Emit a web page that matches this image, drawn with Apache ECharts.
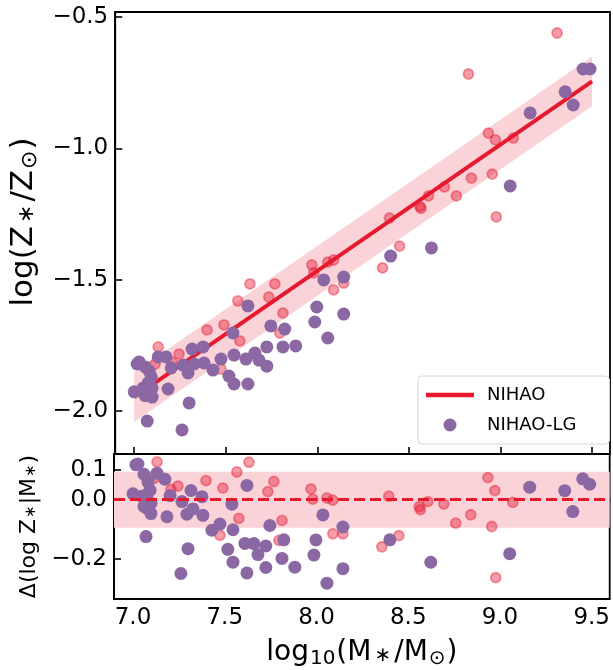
<!DOCTYPE html>
<html><head><meta charset="utf-8">
<script src="https://cdn.jsdelivr.net/npm/echarts@6/dist/echarts.min.js"></script>
<style>html,body{margin:0;padding:0;background:#fff}#c{width:613px;height:670px}</style>
</head><body><div id="c"></div>
<script>
// ---- data ----
const xTicks = [7.0, 7.5, 8.0, 8.5, 9.0, 9.5];
const yTopTicks = [-2.0, -1.5, -1.0, -0.5];
const yBotTicks = [-0.2, 0.0, 0.1];

// NIHAO simulations (red points)
const nihaoX = [9.309, 8.825, 8.934, 8.972, 9.070, 8.841, 8.955, 8.977, 8.694, 8.759,
  8.560, 8.566, 8.607, 8.394, 8.449, 8.356, 7.970, 8.057, 8.089, 7.980,
  8.089, 8.144, 7.812, 7.795, 7.632, 7.768, 7.735, 7.566, 7.398, 7.490,
  7.577, 7.474, 7.131, 7.245, 7.207, 7.114];
const nihaoY = [-0.561, -0.717, -0.942, -0.968, -0.961, -1.113, -1.098, -1.261, -1.147, -1.181,
  -1.221, -1.228, -1.181, -1.265, -1.372, -1.455, -1.444, -1.433, -1.425, -1.474,
  -1.539, -1.513, -1.627, -1.703, -1.516, -1.516, -1.566, -1.581, -1.691, -1.672,
  -1.733, -1.840, -1.756, -1.783, -1.813, -1.821];

// NIHAO-LG simulations (purple points)
const lgX = [9.451, 9.489, 9.353, 9.397, 9.162, 9.053, 8.623, 8.400, 8.035, 8.144,
  7.997, 7.986, 8.144, 8.057, 7.822, 7.882, 7.812, 7.621, 7.539, 7.746,
  7.316, 7.376, 7.724, 7.659, 7.610, 7.545, 7.474, 7.724, 7.681, 7.381,
  7.327, 7.267, 7.202, 7.294, 7.430, 7.517, 7.545, 7.621, 7.185, 7.300,
  7.071, 7.261, 7.131, 7.174, 7.016, 7.027, 7.060, 7.082, 7.093, 7.076,
  7.098, 7.049, 7.000, 7.076, 7.098, 7.060];
const lgY = [-0.698, -0.698, -0.785, -0.835, -0.865, -1.143, -1.379, -1.410, -1.501, -1.490,
  -1.604, -1.661, -1.631, -1.722, -1.688, -1.752, -1.756, -1.600, -1.703, -1.676,
  -1.764, -1.756, -1.756, -1.779, -1.802, -1.787, -1.802, -1.829, -1.806, -1.817,
  -1.821, -1.825, -1.836, -1.855, -1.844, -1.867, -1.897, -1.897, -1.916, -1.969,
  -2.038, -2.072, -1.794, -1.794, -1.821, -1.813, -1.832, -1.848, -1.870, -1.893,
  -1.912, -1.912, -1.927, -1.939, -1.947, -1.941];

// linear fit to NIHAO and its scatter band
const fitX = [7.0, 9.5];
const fitY = [-1.947, -0.745];
const bandHalf = 0.095;

// ---- derived: residual about the fit ----
const fitSlope = (fitY[1] - fitY[0]) / (fitX[1] - fitX[0]);
const fitAt = x => fitY[0] + fitSlope * (x - fitX[0]);
const pairs = (xs, ys) => xs.map((x, i) => [x, ys[i]]);
const resid = (xs, ys) => xs.map((x, i) => [x, +(ys[i] - fitAt(x)).toFixed(4)]);

const RED = '#e6192e';
const RED_PT = 'rgba(232,22,48,0.52)';
const PURPLE = '#8b68a3';
const BAND = '#f9d3d8';
const FONT = 'DejaVu Sans';
const TICK_FS = 23;
const fmt = v => (v < 0 ? '\u2212' : '') + Math.abs(v).toFixed(1);

const chart = echarts.init(document.getElementById('c'), null, {renderer: 'canvas'});

const xBase = (gi, showLabel) => ({
  type: 'value', gridIndex: gi, min: 6.8965, max: 9.598,
  splitLine: {show: false},
  axisLine: {show: true, lineStyle: {color: '#000', width: 1.8}},
  axisTick: {show: true, inside: true, length: 7, customValues: xTicks, lineStyle: {color: '#000', width: 1.6}},
  axisLabel: {show: showLabel, customValues: xTicks, formatter: fmt, color: '#000', fontSize: TICK_FS, fontFamily: FONT, margin: 8},
});

const option = {
  animation: false,
  backgroundColor: '#fff',
  grid: [
    {left: 114, top: 12, width: 496, height: 442, show: true, borderColor: '#000', borderWidth: 1.8, backgroundColor: 'transparent'},
    {left: 114, top: 454, width: 496, height: 149, show: true, borderColor: '#000', borderWidth: 1.8, backgroundColor: 'transparent'}
  ],
  xAxis: [
    xBase(0, false),
    Object.assign(xBase(1, true), {
      name: '{a|log}{s|10}{a|(M}{t|\u2217}{a|/M}{s|\u2299}{a|)}',
      nameLocation: 'middle', nameGap: 37,
      nameTextStyle: {color: '#000', fontFamily: FONT, fontSize: 28,
        rich: {a: {fontSize: 28, fontFamily: FONT, color: '#000'},
               s: {fontSize: 20, fontFamily: FONT, color: '#000', verticalAlign: 'bottom', padding: [13, 1, 0, 1]},
               t: {fontSize: 20, fontFamily: FONT, color: '#000', padding: [7, 3, 0, 3]}}}
    })
  ],
  yAxis: [
    {
      type: 'value', gridIndex: 0, min: -2.1635, max: -0.481,
      splitLine: {show: false},
      axisLine: {show: true, lineStyle: {color: '#000', width: 1.8}},
      axisTick: {show: true, inside: true, length: 7, customValues: yTopTicks, lineStyle: {color: '#000', width: 1.6}},
      axisLabel: {customValues: yTopTicks, formatter: fmt, color: '#000', fontSize: TICK_FS, fontFamily: FONT, margin: 7},
      name: '{a|log(Z}{t|\u2217}{a|/Z}{s|\u2299}{a|)}',
      nameLocation: 'middle', nameGap: 70, nameRotate: 90,
      nameTextStyle: {color: '#000', fontFamily: FONT, fontSize: 31, padding: [0, 0, 0, 22],
        rich: {a: {fontSize: 31, fontFamily: FONT, color: '#000'},
               s: {fontSize: 22, fontFamily: FONT, color: '#000', padding: [14, 1, 0, 1]},
               t: {fontSize: 22, fontFamily: FONT, color: '#000', padding: [7, 3, 0, 3]}}}
    },
    {
      type: 'value', gridIndex: 1, min: -0.337, max: 0.155,
      splitLine: {show: false},
      axisLine: {show: true, lineStyle: {color: '#000', width: 1.8}},
      axisTick: {show: true, inside: true, length: 7, customValues: yBotTicks, lineStyle: {color: '#000', width: 1.6}},
      axisLabel: {customValues: yBotTicks, formatter: fmt, color: '#000', fontSize: TICK_FS, fontFamily: FONT, margin: 7},
      name: '{a|\u0394(log Z}{t|\u2217}{a||M}{t|\u2217}{a|)}',
      nameLocation: 'middle', nameGap: 70, nameRotate: 90,
      nameTextStyle: {color: '#000', fontFamily: FONT, fontSize: 22,
        rich: {a: {fontSize: 22, fontFamily: FONT, color: '#000'},
               t: {fontSize: 15, fontFamily: FONT, color: '#000', padding: [4, 1, 0, 1]}}}
    }
  ],
  legend: {
    left: 418, top: 376, orient: 'vertical',
    data: [{name: 'NIHAO', icon: 'path://M0,0H48V4.5H0Z'}, {name: 'NIHAO-LG', icon: 'circle'}],
    itemWidth: 48, itemHeight: 13, itemGap: 12,
    textStyle: {fontSize: 18, fontFamily: FONT, color: '#000', padding: [0, 0, 0, 8]},
    borderColor: '#d6d6d6', borderWidth: 1, borderRadius: 4,
    padding: [10, 33, 10, 8], backgroundColor: '#fff',
    selectedMode: false
  },
  series: [
    { // scatter band around the fit (top)
      type: 'custom', name: 'band', xAxisIndex: 0, yAxisIndex: 0, silent: true, z: 1,
      data: [[fitX[0], fitY[0]]],
      renderItem: (params, api) => {
        const up = fitX.map((x, i) => api.coord([x, fitY[i] + bandHalf]));
        const lo = fitX.map((x, i) => api.coord([x, fitY[i] - bandHalf])).reverse();
        return {type: 'polygon', shape: {points: up.concat(lo)}, style: {fill: BAND}};
      }
    },
    {
      type: 'scatter', name: 'NIHAO pts', xAxisIndex: 0, yAxisIndex: 0, z: 2,
      data: pairs(nihaoX, nihaoY), symbolSize: 10,
      itemStyle: {color: RED_PT, borderColor: RED_PT, borderWidth: 1.8}
    },
    {
      type: 'line', name: 'NIHAO', xAxisIndex: 0, yAxisIndex: 0, z: 3,
      data: pairs(fitX, fitY), showSymbol: false, symbol: 'none',
      lineStyle: {color: RED, width: 4}, itemStyle: {color: RED}
    },
    {
      type: 'scatter', name: 'NIHAO-LG', xAxisIndex: 0, yAxisIndex: 0, z: 4,
      data: pairs(lgX, lgY), symbolSize: 13,
      itemStyle: {color: PURPLE, opacity: 1}
    },
    { // bottom: band and zero line
      type: 'line', name: 'zero', xAxisIndex: 1, yAxisIndex: 1, z: 1,
      data: [[fitX[0], 0], [fitX[1], 0]], showSymbol: false, symbol: 'none',
      lineStyle: {opacity: 0}, silent: true,
      markArea: {silent: true, itemStyle: {color: BAND}, data: [[{yAxis: -bandHalf}, {yAxis: bandHalf}]]},
      markLine: {silent: true, symbol: 'none', label: {show: false},
        lineStyle: {color: RED, width: 3, type: [11, 5]}, data: [{yAxis: 0}]}
    },
    {
      type: 'scatter', name: 'NIHAO resid', xAxisIndex: 1, yAxisIndex: 1, z: 2,
      data: resid(nihaoX, nihaoY), symbolSize: 10,
      itemStyle: {color: RED_PT, borderColor: RED_PT, borderWidth: 1.8}
    },
    {
      type: 'scatter', name: 'NIHAO-LG', xAxisIndex: 1, yAxisIndex: 1, z: 4,
      data: resid(lgX, lgY), symbolSize: 13,
      itemStyle: {color: PURPLE, opacity: 1}
    }
  ]
};
chart.setOption(option);
</script>
</body></html>
